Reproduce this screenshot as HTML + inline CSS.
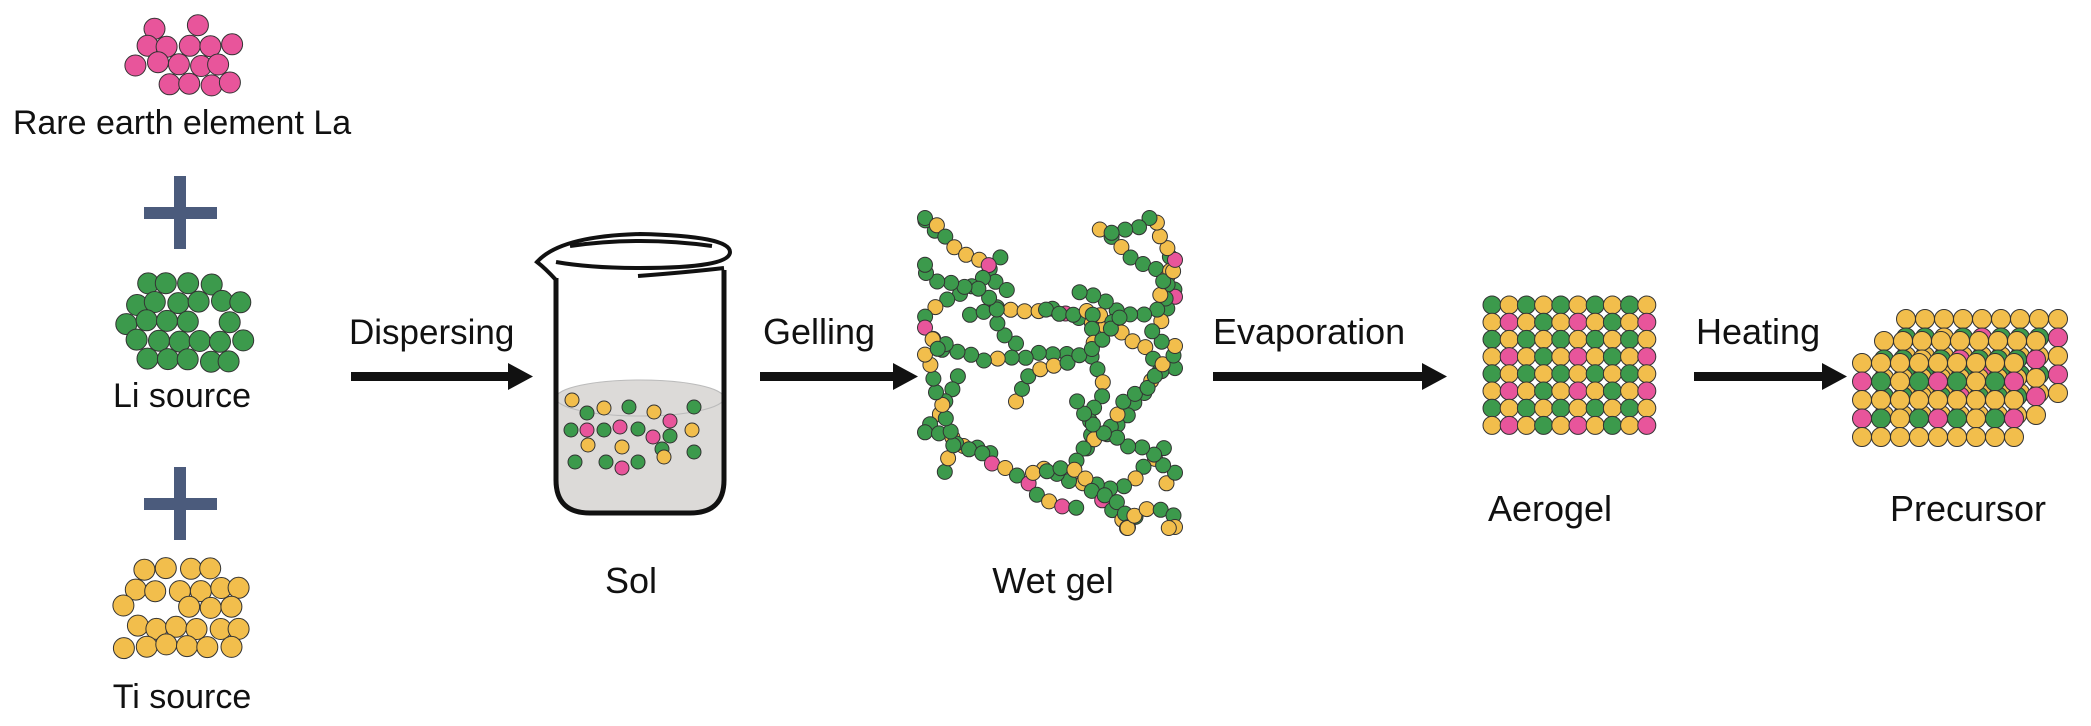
<!DOCTYPE html>
<html><head><meta charset="utf-8"><style>
html,body{margin:0;padding:0;background:#fff;}
svg{display:block;}
text{font-family:"Liberation Sans",Arial,sans-serif;fill:#111;}
</style></head><body>
<svg id="s" width="2091" height="726" viewBox="0 0 2091 726" xmlns="http://www.w3.org/2000/svg">
<g id="parts"></g>
<rect x="144" y="207" width="73" height="12" fill="#4b5b7c"/><rect x="174" y="176" width="12" height="73" fill="#4b5b7c"/>
<rect x="144" y="498" width="73" height="12" fill="#4b5b7c"/><rect x="174" y="467" width="12" height="73" fill="#4b5b7c"/>
<text x="182" y="134" font-size="34" text-anchor="middle">Rare earth element La</text>
<text x="182" y="407" font-size="34" text-anchor="middle">Li source</text>
<text x="182" y="708" font-size="34" text-anchor="middle">Ti source</text>
<g fill="#111">
<rect x="351" y="372" width="160" height="9"/><path d="M508,363 L533,376.5 L508,390z"/>
<rect x="760" y="372" width="135" height="9"/><path d="M893,363 L918,376.5 L893,390z"/>
<rect x="1213" y="372" width="212" height="9"/><path d="M1422,363 L1447,376.5 L1422,390z"/>
<rect x="1694" y="372" width="130" height="9"/><path d="M1822,363 L1847,376.5 L1822,390z"/>
</g>
<text x="349" y="344" font-size="35">Dispersing</text>
<text x="763" y="344" font-size="36">Gelling</text>
<text x="1213" y="344" font-size="36">Evaporation</text>
<text x="1696" y="344" font-size="36">Heating</text>
<text x="631" y="593" font-size="36" text-anchor="middle">Sol</text>
<text x="1053" y="593" font-size="36" text-anchor="middle">Wet gel</text>
<text x="1550" y="521" font-size="36" text-anchor="middle">Aerogel</text>
<text x="1968" y="521" font-size="36" text-anchor="middle">Precursor</text>
<path d="M556,400 L556,480 Q556,513 590,513 L690,513 Q724,513 724,480 L724,400 Q640,418 556,400z" fill="#dcdad8"/>
<ellipse cx="640" cy="398" rx="84" ry="18" fill="#dcdad8" stroke="#bbb" stroke-width="1"/>
<g id="sol"></g>
<path d="M556,278 L556,480 Q556,513 590,513 L690,513 Q724,513 724,480 L724,270" fill="none" stroke="#111" stroke-width="5"/>
<path d="M556,280 Q545,268 537,262 Q560,236 640,234 Q730,236 730,252 Q730,268 640,268 Q590,268 556,262" fill="none" stroke="#111" stroke-width="4"/>
<path d="M570,246 Q640,236 712,246" fill="none" stroke="#111" stroke-width="4"/>
<path d="M638,276 Q690,272 724,268" fill="none" stroke="#111" stroke-width="4"/>
</svg>
<script>
var NS="http://www.w3.org/2000/svg",P="#e8559b",G="#3c9a4c",Y="#f2be4c";
var g=document.getElementById("parts"),sol=document.getElementById("sol");
function c(p,x,y,r,f){var e=document.createElementNS(NS,"circle");e.setAttribute("cx",x.toFixed(1));e.setAttribute("cy",y.toFixed(1));e.setAttribute("r",r);e.setAttribute("fill",f);e.setAttribute("stroke","#333");e.setAttribute("stroke-width","1");p.appendChild(e);}
var seed=7;function rnd(){seed=(seed*16807)%2147483647;return seed/2147483647;}
function cluster(cx,cy,cols,rows,r,f,skip){var pitch=r*2.0;for(var j=0;j<rows;j++)for(var i=0;i<cols;i++){if(skip.indexOf(j*cols+i)>=0)continue;var x=cx+(i-(cols-1)/2)*pitch+(j%2?pitch/2:0)+(rnd()-.5)*5,y=cy+(j-(rows-1)/2)*pitch*0.9+(rnd()-.5)*5;c(g,x,y,r,f);}}
cluster(178,55,5,4,10.5,P,[0,2,4,15]);
cluster(178,322,6,5,10.5,G,[0,5,16,24]);
cluster(178,608,6,5,10.5,Y,[0,5,13,14]);
var sp=[[572,400,Y],[587,413,G],[604,408,Y],[629,407,G],[654,412,Y],[670,421,P],[694,407,G],[571,430,G],[587,430,P],[604,430,G],[620,427,P],[638,429,G],[653,437,P],[670,436,G],[692,430,Y],[588,445,Y],[622,447,Y],[662,449,G],[575,462,G],[606,462,G],[622,468,P],[638,462,G],[664,457,Y],[694,452,G]];
sp.forEach(function(a){c(sol,a[0],a[1],7,a[2]);});
seed=42;
for(var gy=0;gy<5;gy++)for(var gx=0;gx<4;gx++){var x=940+gx*70+rnd()*30,y=228+gy*62+rnd()*30,a=rnd()*6.28;for(var n=0;n<11;n++){a+=(rnd()-.5)*1.2;x+=Math.cos(a)*14;y+=Math.sin(a)*14;if(x<925||x>1175){a=Math.PI-a;x=Math.max(925,Math.min(1175,x));}if(y<218||y>528){a=-a;y=Math.max(218,Math.min(528,y));}var q=rnd();c(g,x,y,7.5,q<.06?P:(q<.3?Y:G));}}
for(var j=0;j<8;j++)for(var i=0;i<10;i++){var f;if(j%2==0)f=i%2==0?G:Y;else f=i%2==0?Y:(i%4==1?P:G);c(g,1492+i*17.2,305+j*17.2,9,f);}
for(var L=0;L<3;L++){var ox=1862+(2-L)*22,oy=363-(2-L)*22;
for(var j=0;j<5;j++)for(var i=0;i<9;i++){var f;if(j%2==0)f=Y;else f=(i%4==0)?P:(i%2==1?G:Y);if(L<2&&j%2==1&&i%3==0)f=G;c(g,ox+i*19,oy+j*18.5,9.5,f);}}
</script>
</body></html>
